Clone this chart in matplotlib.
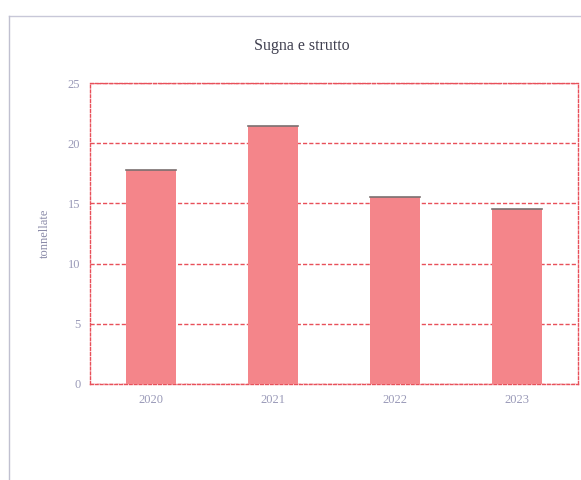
import matplotlib
matplotlib.use("Agg")
import matplotlib.pyplot as plt
from matplotlib.lines import Line2D

categories = ["2020", "2021", "2022", "2023"]
values = [17.8, 21.4, 15.5, 14.5]
yticks = [0, 5, 10, 15, 20, 25]
title = "Sugna e strutto"
ylabel = "tonnellate"

plt.rcParams['font.family'] = ['Liberation Serif', 'DejaVu Serif']

fig = plt.figure(figsize=(5.81, 4.8), dpi=100)
ax = fig.add_axes([0.155, 0.2, 0.84, 0.627])

x = list(range(len(categories)))
ax.bar(x, values, width=0.41, color='#f4858a', edgecolor='none', zorder=3)
for xi, v in zip(x, values):
    ax.plot([xi - 0.205, xi + 0.205], [v, v], color='#7a7070', lw=1.2, zorder=4)

ax.set_xlim(-0.5, 3.5)
ax.set_ylim(0, 25)
ax.set_yticks(yticks)
ax.set_xticks(x)
ax.set_xticklabels(categories)
ax.tick_params(axis='both', length=0, labelsize=9, labelcolor='#9a9ab8')
ax.tick_params(axis='y', pad=7)
ax.tick_params(axis='x', pad=7)
ax.yaxis.grid(True, color='#e8505a', linestyle=(0, (3, 1.5)), lw=1.0, zorder=1)
for s in ax.spines.values():
    s.set_color('#e8505a')
    s.set_linestyle((0, (2, 1.5)))
    s.set_linewidth(1.0)

ax.set_ylabel(ylabel, color='#8a8aa8', fontsize=9, labelpad=12)
fig.text(0.52, 0.905, title, ha='center', va='center', fontsize=11.5, color='#404050')

fig.add_artist(Line2D([9/581, 1.0], [1 - 16/480, 1 - 16/480], color='#c8c8d8', lw=1.0))
fig.add_artist(Line2D([9/581, 9/581], [0, 1 - 16/480], color='#c0c0d0', lw=1.0))

fig.savefig("out.png", dpi=100)
